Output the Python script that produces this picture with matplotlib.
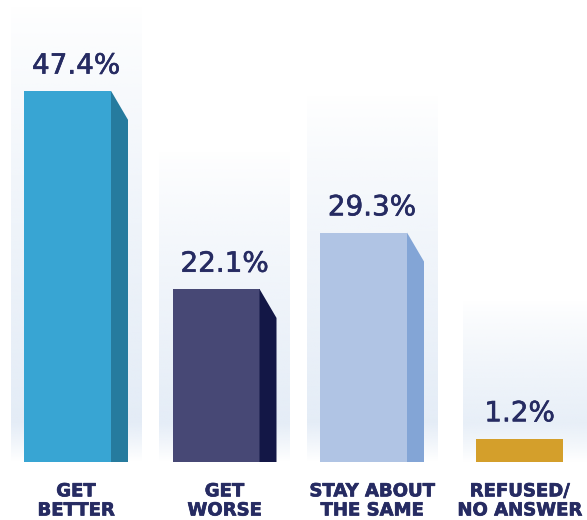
import matplotlib.pyplot as plt
import matplotlib.patches as mpatches
import matplotlib.patheffects as pe
import numpy as np
from matplotlib.colors import to_rgb

# data
categories = ['GET\nBETTER', 'GET\nWORSE', 'STAY ABOUT\nTHE SAME', 'REFUSED/\nNO ANSWER']
values = [47.4, 22.1, 29.3, 1.2]
value_labels = ['47.4%', '22.1%', '29.3%', '1.2%']
front_colors = ['#38a5d3', '#474875', '#b0c4e4', '#d49f2b']
side_colors = ['#267b9e', '#131746', '#83a5d6', '#b8881f']

TEXT = '#262b62'
BG = '#e2ebf6'

# layout (x in pixel-like units, y in percent)
xpos = [67.5, 216, 363.5, 519.5]   # centres of the front faces
bw = 87       # front face width
sw = 17       # side face width
slant = 3.7   # drop of the side face top
col_w = 131   # background column width
min_h = 3.0   # smallest drawn bar

fig = plt.figure(figsize=(5.87, 5.2), dpi=100)
ax = fig.add_axes([0, 1 - 462 / 520, 1, 462 / 520])
ax.set_xlim(0, 587)
ax.set_ylim(0, 59.0)
ax.axis('off')

bg_rgb = to_rgb(BG)

for i, v in enumerate(values):
    h = max(v, min_h)
    x0 = xpos[i] - bw / 2
    has_side = h > slant
    cx = xpos[i] + (sw / 2 if has_side else 0)

    # background gradient column
    top = min(h + 17.5, 58.2)
    n = 300
    yy = np.linspace(top, 0, n)          # row 0 is the top
    alpha = np.clip((top - yy) / top, 0, 1) ** 0.8
    fade = np.clip(yy / 5.0, 0, 1)
    alpha = alpha * fade
    img = np.zeros((n, 1, 4))
    img[:, 0, :3] = bg_rgb
    img[:, 0, 3] = alpha
    ax.imshow(img, extent=[xpos[i] + sw / 2 - col_w / 2, xpos[i] + sw / 2 + col_w / 2, 0, top],
              aspect='auto', zorder=0, interpolation='bilinear')

    # front face
    ax.add_patch(mpatches.Rectangle((x0, 0), bw, h, facecolor=front_colors[i],
                                    edgecolor='none', zorder=2))
    # side face
    if has_side:
        xr = x0 + bw
        side = mpatches.Polygon([(xr, 0), (xr, h), (xr + sw, h - slant), (xr + sw, 0)],
                                closed=True, facecolor=side_colors[i],
                                edgecolor='none', zorder=2)
        ax.add_patch(side)

    ax.text(cx, h + 2.2, value_labels[i], ha='center', va='baseline',
            fontsize=20, color=TEXT, family='DejaVu Sans', zorder=3,
            path_effects=[pe.withStroke(linewidth=0.45, foreground=TEXT)])

    ax.text(cx, -2.6, categories[i], ha='center', va='top', fontsize=13,
            fontweight='bold', color=TEXT, linespacing=1.08,
            family='DejaVu Sans', clip_on=False, zorder=3,
            path_effects=[pe.withStroke(linewidth=0.5, foreground=TEXT)])

fig.savefig('out.png', dpi=100)
